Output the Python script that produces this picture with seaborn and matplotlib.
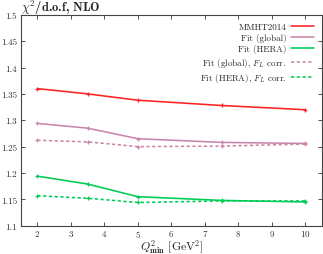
import matplotlib
matplotlib.use("Agg")
import matplotlib.pyplot as plt
import seaborn as sns
import pandas as pd

# Q^2_min cut values (GeV^2)
q2min = [2, 3.5, 5, 7.5, 10]

mmht = [1.360, 1.350, 1.338, 1.328, 1.320]
fit_global = [1.294, 1.285, 1.265, 1.258, 1.256]
fit_hera = [1.194, 1.179, 1.155, 1.148, 1.145]
fit_global_fl = [1.262, 1.259, 1.250, 1.251, 1.255]
fit_hera_fl = [1.157, 1.152, 1.144, 1.147, 1.147]

labels = ["MMHT2014", "Fit (global)", "Fit (HERA)",
          r"Fit (global), $F_L$ corr.", r"Fit (HERA), $F_L$ corr."]
series = [mmht, fit_global, fit_hera, fit_global_fl, fit_hera_fl]
colors = ["#ff2222", "#c887aa", "#00cc55", "#c887aa", "#00cc55"]
dashes = ["", "", "", (2, 1.6), (2, 1.6)]

rows = []
for lab, vals in zip(labels, series):
    for q, v in zip(q2min, vals):
        rows.append({"q2": q, "chi2": v, "fit": lab})
df = pd.DataFrame(rows)

sns.set_style("ticks")
plt.rcParams["font.family"] = ["cmr10", "DejaVu Serif"]
plt.rcParams["mathtext.fontset"] = "cm"
plt.rcParams["axes.formatter.use_mathtext"] = True

fig = plt.figure(figsize=(3.23, 2.55), dpi=100)
ax = fig.add_axes([0.064, 0.111, 0.933, 0.827])

for lab, col, ds in zip(labels, colors, dashes):
    sub = df[df["fit"] == lab]
    ls = "-" if ds == "" else (0, ds)
    sns.lineplot(data=sub, x="q2", y="chi2", ax=ax, color=col, linewidth=1.15,
                 linestyle=ls, marker="+", markersize=3.5, markeredgewidth=0.9,
                 markeredgecolor=col, label=lab)

ax.set_xlim(1.5, 10.5)
ax.set_ylim(1.1, 1.5)
ax.set_xticks(range(2, 11))
ax.set_yticks([1.1, 1.15, 1.2, 1.25, 1.3, 1.35, 1.4, 1.45, 1.5])
ax.set_yticklabels(["1.1", "1.15", "1.2", "1.25", "1.3", "1.35", "1.4", "1.45", "1.5"])
ax.tick_params(direction="in", top=True, right=True, labelsize=6.5,
               length=3, width=0.6, colors="#333333", pad=2.5)
ax.tick_params(axis="x", pad=2)
for sp in ax.spines.values():
    sp.set_linewidth(0.8)
    sp.set_color("#444444")

ax.set_xlabel(r"$Q^2_{\mathbf{min}}$ [GeV$^2$]", fontsize=8.5)
ax.xaxis.set_label_coords(0.5, -0.098)
ax.xaxis.label.set_verticalalignment("center")
ax.set_ylabel("")
fig.text(0.066, 0.968, r"$\chi^2$/d.o.f, NLO", fontsize=9, fontweight="bold",
         family=["cmb10", "DejaVu Serif"], ha="left", va="center")

leg = ax.legend(loc="upper right", markerfirst=False, frameon=False,
                fontsize=6.5, handlelength=2.6, labelspacing=0.25,
                borderaxespad=0.45, handletextpad=0.5)
for h in leg.get_lines():
    h.set_marker("")

fig.savefig("out.png", dpi=100)
